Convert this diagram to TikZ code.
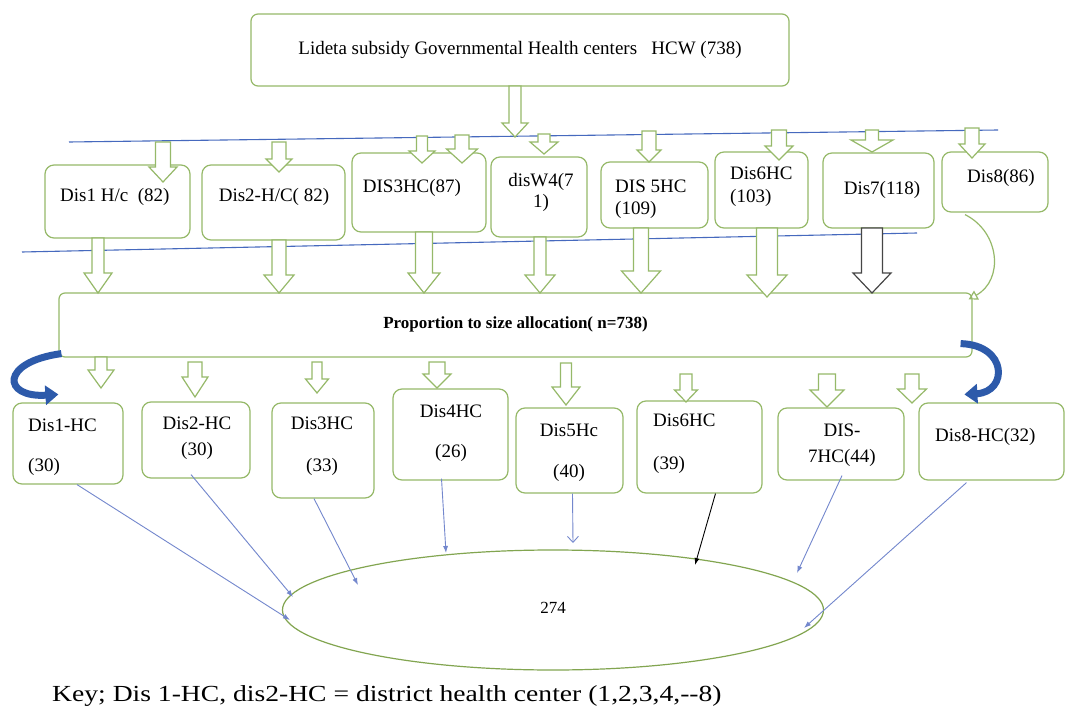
\documentclass[tikz,border=0pt]{standalone}
\usepackage{fontspec}
\setmainfont{Liberation Serif}
\usetikzlibrary{shapes.geometric, arrows.meta, calc}

\definecolor{boxgreen}{RGB}{150,185,105}
\definecolor{ellgreen}{RGB}{130,165,80}
\definecolor{ruleblue}{RGB}{70,105,190}
\definecolor{linkblue}{RGB}{115,135,205}
\definecolor{curveblue}{RGB}{45,90,170}
\definecolor{arrowgray}{RGB}{70,70,70}

\tikzset{
	hcbox/.style={draw=boxgreen, rounded corners=9pt, line width=1.2pt, fill=white},
	hctext/.style={font=\fontsize{19pt}{21pt}\selectfont, inner sep=0pt},
	ruleline/.style={draw=ruleblue, line width=1.1pt},
	link/.style={draw=linkblue, line width=0.9pt, -{Latex[length=7pt, width=5pt]}},
	bluecurve/.style={draw=curveblue, line width=7pt, -{Triangle[length=13pt, width=19pt]}},
}

% hollow block arrow pointing down: [colour]{x}{top}{tip}{shaft}{head}{head length}
\newcommand{\blockdown}[7][boxgreen]{%
	\pgfmathsetmacro{\bsh}{#5/2}%
	\pgfmathsetmacro{\bhd}{#6/2}%
	\pgfmathsetmacro{\bnk}{#4-#7}%
	\path [draw=#1, fill=white, line width=1.2pt] (#2-\bsh,#3) -- (#2+\bsh,#3) -- (#2+\bsh,\bnk) -- (#2+\bhd,\bnk) -- (#2,#4) -- (#2-\bhd,\bnk) -- (#2-\bsh,\bnk) -- cycle;}

\begin{document}
\begin{tikzpicture}[x=1pt, y=-1pt]
	\useasboundingbox [fill=white] (0,0) rectangle (1069,706);
	% top box
	\node [hcbox, rounded corners=7pt, minimum width=538pt, minimum height=72pt, font=\fontsize{19pt}{21pt}\selectfont] (top) at (520,50) {\raisebox{3pt}{Lideta subsidy Governmental Health centers\ \ \ HCW (738)}};
	% blue rules
	\path [ruleline] (69,142) -- (998,130);
	\path [ruleline] (22,252) -- (917,233);
	% districts, first row
	\node [hcbox, minimum width=145pt, minimum height=73pt] (d1) at (117.5,201.5) {};
	\node [hcbox, minimum width=143pt, minimum height=75pt] (d2) at (273.5,202.5) {};
	\node [hcbox, minimum width=134pt, minimum height=79pt] (d3) at (419,192.5) {};
	\node [hcbox, minimum width=96pt, minimum height=80pt] (d4) at (539,197) {};
	\node [hcbox, minimum width=107pt, minimum height=66pt] (d5) at (654.5,195) {};
	\node [hcbox, minimum width=93pt, minimum height=76pt] (d6) at (761.5,190) {};
	\node [hcbox, minimum width=111pt, minimum height=75pt] (d7) at (878.5,190.5) {};
	\node [hcbox, minimum width=106pt, minimum height=60pt] (d8) at (995,182) {};
	\node [hctext, anchor=west] (d1txt) at (60,197) {Dis1 H/c\ \ (82)};
	\node [hctext] (d2txt) at (274,197) {Dis2-H/C( 82)};
	\node [hctext] (d3txt) at (412,188) {DIS3HC(87)};
	\node [hctext, align=center] (d4txt) at (541,192) {disW4(7\\1)};
	\node [hctext, align=left, anchor=west] (d5txt) at (615,199) {DIS 5HC\\[1pt](109)};
	\node [hctext, align=left, anchor=west] (d6txt) at (730,186.5) {Dis6HC\\[2pt](103)};
	\node [hctext] (d7txt) at (882,190) {Dis7(118)};
	\node [hctext] (d8txt) at (1001,178) {Dis8(86)};
	% arrows into the first row
	\blockdown{515}{86}{137}{12}{26}{14}
	\blockdown{163}{142}{182}{15}{28}{15}
	\blockdown{279}{142}{172}{14}{26}{13}
	\blockdown{422}{136}{163}{11}{26}{12}
	\blockdown{462}{135}{163}{14}{31}{14}
	\blockdown{544}{134}{154}{12}{28}{12}
	\blockdown{649}{131}{162}{14}{24}{12}
	\blockdown{779}{130}{160}{15}{28}{14}
	\blockdown{872}{130}{152}{13}{42}{12}
	\blockdown{972}{128}{158}{14}{26}{14}
	% allocation bar
	\node [hcbox, rounded corners=6pt, minimum width=913pt, minimum height=64pt, font=\bfseries\fontsize{17pt}{19pt}\selectfont] (bar) at (515.5,325) {\raisebox{4pt}{Proportion to size allocation( n=738)}};
	\blockdown{98}{238}{293}{12}{28}{20}
	\blockdown{279}{240}{293}{14}{30}{18}
	\blockdown{424}{232}{293}{17}{32}{20}
	\blockdown{540}{237}{293}{12}{30}{18}
	\blockdown{641}{228}{293}{15}{39}{22}
	\blockdown{767}{228}{297}{21}{40}{22}
	\blockdown[arrowgray]{872}{228}{293}{21}{38}{20}
	\path [draw=boxgreen, line width=1.2pt, -{Triangle[open, length=9pt, width=10pt]}] ($(d8.south)+(-30,2)$) .. controls (1000,232) and (1004,280) .. ($(bar.north east)+(-4,7)$);
	% districts, second row
	\node [hcbox, minimum width=110pt, minimum height=81pt] (r1) at (68,443.5) {};
	\node [hcbox, minimum width=108pt, minimum height=76pt] (r2) at (196,440) {};
	\node [hcbox, minimum width=102pt, minimum height=95pt] (r3) at (323,450.5) {};
	\node [hcbox, minimum width=115pt, minimum height=91pt] (r4) at (450.5,434.5) {};
	\node [hcbox, minimum width=107pt, minimum height=85pt] (r5) at (569.5,450.5) {};
	\node [hcbox, minimum width=125pt, minimum height=92pt] (r6) at (699.5,447) {};
	\node [hcbox, minimum width=126pt, minimum height=72pt] (r7) at (841,444) {};
	\node [hcbox, minimum width=145pt, minimum height=77pt] (r8) at (991.5,441.5) {};
	\node [hctext, align=left, anchor=west] (r1txt) at (28,447) {Dis1-HC\\[19pt](30)};
	\node [hctext, align=center] (r2txt) at (197,438) {Dis2-HC\\[5pt](30)};
	\node [hctext, align=center] (r3txt) at (322,446) {Dis3HC\\[21pt](33)};
	\node [hctext, align=center] (r4txt) at (451,433) {Dis4HC\\[19pt](26)};
	\node [hctext, align=center] (r5txt) at (569,452.5) {Dis5Hc\\[20pt](40)};
	\node [hctext, align=left, anchor=west] (r6txt) at (653,443.5) {Dis6HC\\[22pt](39)};
	\node [hctext, align=center] (r7txt) at (842,445) {DIS-\\[5pt]7HC(44)};
	\node [hctext, anchor=west] (r8txt) at (935,437) {Dis8-HC(32)};
	% arrows out of the bar
	\blockdown{101}{357}{388}{12}{26}{18}
	\blockdown{195}{362}{397}{14}{26}{20}
	\blockdown{317}{362}{393}{10}{23}{14}
	\blockdown{437}{362}{388}{16}{28}{14}
	\blockdown{566}{363}{405}{11}{28}{18}
	\blockdown{686}{374}{402}{12}{23}{12}
	\blockdown{827}{374}{407}{17}{34}{17}
	\blockdown{912}{374}{403}{14}{29}{14}
	\path [bluecurve] ($(bar.south west)+(3,-4)$) .. controls (0,362) and (2,398) .. ($(r1.north west)+(46,-8)$);
	\path [bluecurve] ($(bar.south east)+(-12,-14)$) .. controls (1008,345) and (1008,392) .. ($(r8.north west)+(46,-8)$);
	% total sample
	\node [draw=ellgreen, ellipse, line width=1.2pt, minimum width=541pt, minimum height=120pt, inner sep=0pt, font=\fontsize{17pt}{19pt}\selectfont] (total) at (553,610) {\raisebox{5pt}{274}};
	\path [link] ($(r1.south)+(9,0)$) -- ($(total)+(-263,10)$);
	\path [link] ($(r2.south)+(-5,-4)$) -- ($(total)+(-260,-13)$);
	\path [link] ($(r3.south)+(-9,0)$) -- ($(total)+(-195,-25)$);
	\path [link] ($(r4.south)+(-9,-2)$) -- ($(total)+(-107,-57)$);
	\path [link, -{Straight Barb[length=6pt, width=11pt]}] ($(r5.south)+(3,0)$) -- ($(total)+(20,-67)$);
	\path [link, draw=black] ($(r6.south)+(16,0)$) -- ($(total)+(142,-45)$);
	\path [link] ($(r7.south)+(1,-5)$) -- ($(total)+(244,-37)$);
	\path [link] ($(r8.south)+(-25,2)$) -- ($(total)+(251,18)$);
	% key
	\node [anchor=base west, inner sep=0pt, font=\fontsize{23pt}{26pt}\selectfont] (key) at (52,701) {\scalebox{1.2}[1]{Key; Dis 1-HC, dis2-HC = district health center (1,2,3,4,-{}-8)}};
\end{tikzpicture}
\end{document}
